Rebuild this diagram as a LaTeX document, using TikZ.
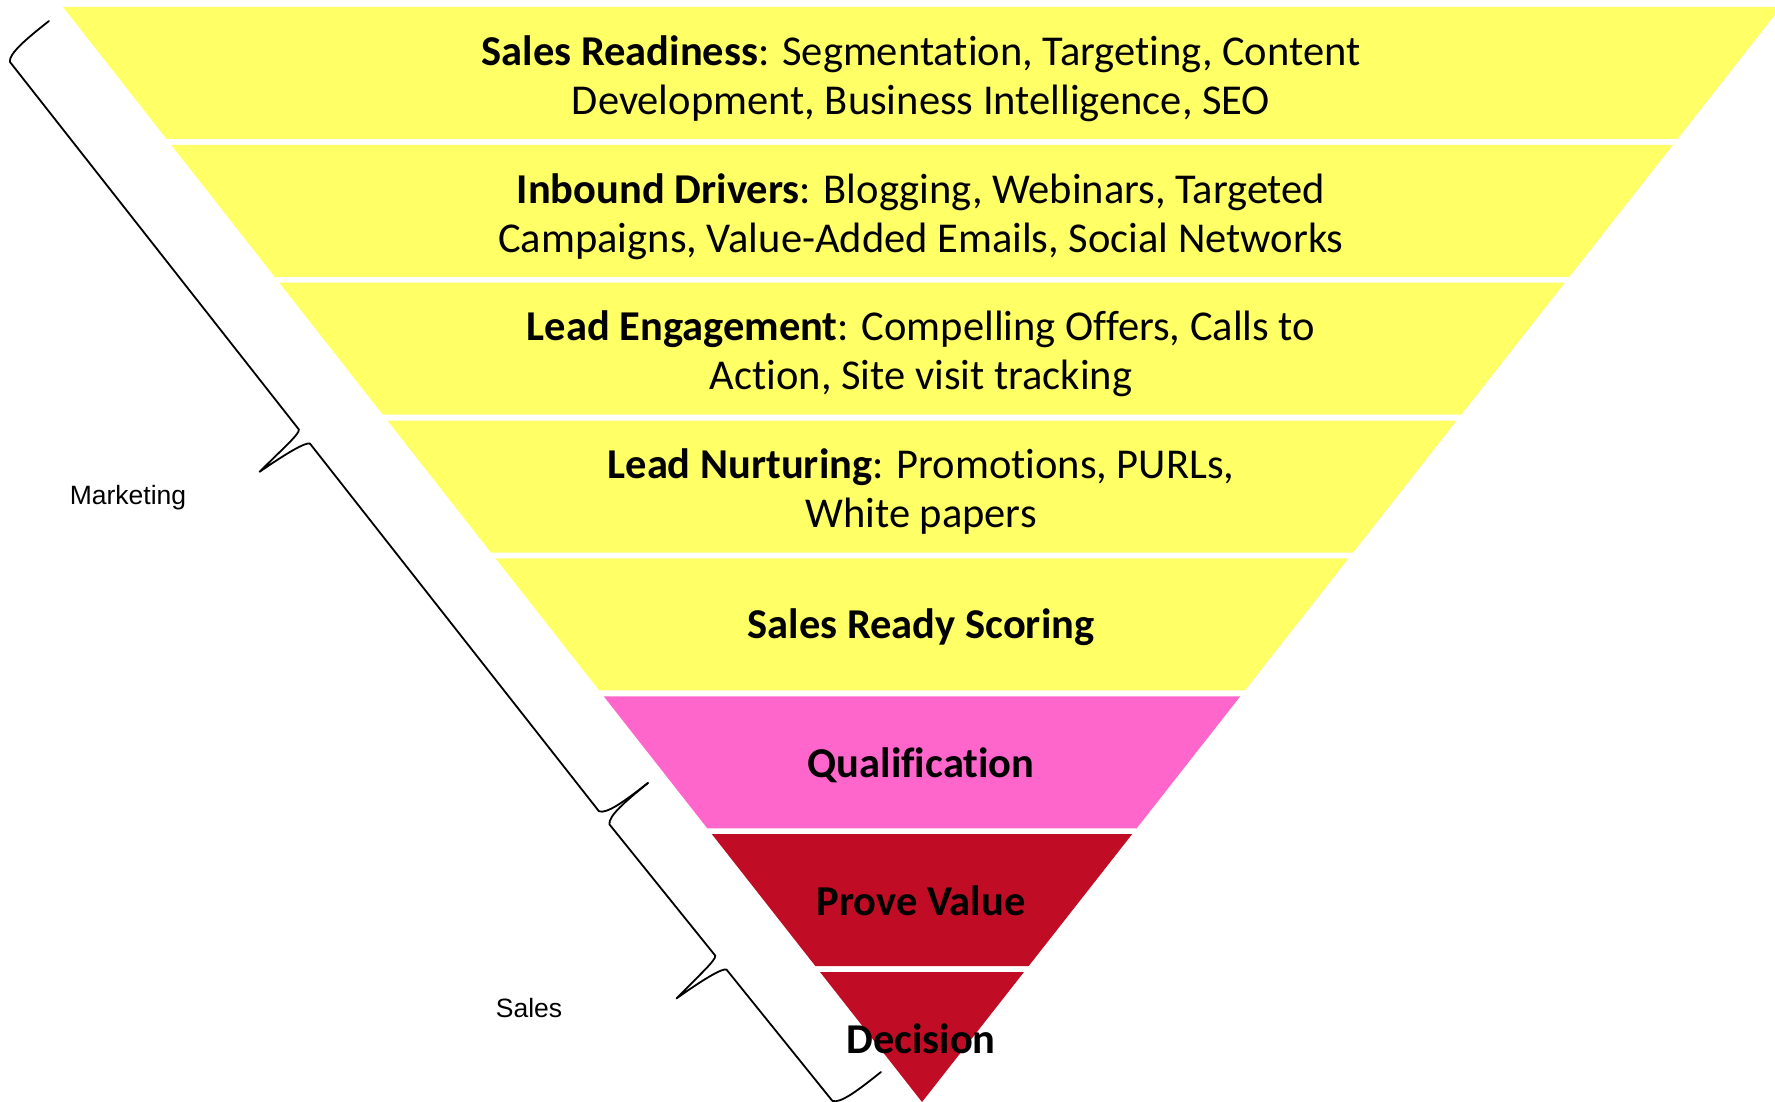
\documentclass[tikz,border=0pt]{standalone}
\usepackage{fontspec}
\setmainfont{Carlito}[Ligatures=NoCommon]
\newfontfamily\arialfont{Liberation Sans}
\usetikzlibrary{calc}
\definecolor{funyellow}{RGB}{255,255,102}
\definecolor{funpink}{RGB}{255,102,204}
\definecolor{funred}{RGB}{192,12,36}
\tikzset{
  bandtext/.style={align=center, text=black, font=\fontsize{42.5}{49}\selectfont, inner sep=0pt},
  sidelabel/.style={font=\arialfont\fontsize{26.5}{31}\selectfont, inner sep=0pt},
  bracestyle/.style={draw=black, line width=1.8pt, line join=round, line cap=round}
}
\newcommand\funnelbrace[3]{%
  \begin{scope}[shift={#1}, rotate=#2]
    \pgfmathsetmacro\hm{#3/2}
    \draw[bracestyle] (0,0) .. controls (0,-30) and (1,-52) .. (8,-56)
      -- ({\hm-9},-56) .. controls ({\hm-5},-58) and ({\hm-4},-80) .. ({\hm},-113)
      .. controls ({\hm+2},-80) and ({\hm+5},-58) .. ({\hm+9},-56)
      -- ({#3-8},-56) .. controls ({#3-1},-52) and ({#3},-30) .. (#3,0);
  \end{scope}}
\begin{document}
\begin{tikzpicture}[x=1pt,y=1pt]
\useasboundingbox (0,0) rectangle (1775,-1102);
\coordinate (A) at (63,-7);
\coordinate (B) at (1781,-7);
\coordinate (C) at (922,-1102);
\begin{scope}
\clip (0,0) rectangle (1775,-1102);
\foreach \i/\col in {0/funyellow,1/funyellow,2/funyellow,3/funyellow,4/funyellow,5/funpink,6/funred,7/funred}{
  \pgfmathsetmacro\ft{\i*137.86/1095}
  \pgfmathsetmacro\fb{min(1,(\i*137.86+132)/1095)}
  \fill[\col] ($(A)!\ft!(C)$) -- ($(B)!\ft!(C)$) -- ($(B)!\fb!(C)$) -- ($(A)!\fb!(C)$) -- cycle;
}
\end{scope}
\node[bandtext] (t1) at (921,-78.5) {\textbf{Sales Readiness}: Segmentation, Targeting, Content\\Development, Business Intelligence, SEO};
\node[bandtext] (t2) at (921,-216.5) {\textbf{Inbound Drivers}: Blogging, Webinars, Targeted\\Campaigns, Value-Added Emails, Social Networks};
\node[bandtext] (t3) at (921,-353.5) {\textbf{Lead Engagement}: Compelling Offers, Calls to\\Action, Site visit tracking};
\node[bandtext] (t4) at (921,-491.5) {\textbf{Lead Nurturing}: Promotions, PURLs,\\White papers};
\node[bandtext] (t5) at (921,-627) {\textbf{Sales Ready Scoring}};
\node[bandtext] (t6) at (921,-765) {\textbf{Qualification}};
\node[bandtext] (t7) at (921,-901) {\textbf{Prove Value}};
\node[bandtext] (t8) at (921,-1039) {\textbf{Decision}};
\funnelbrace{(49,-21)}{-51.83}{969.2}
\funnelbrace{(648,-783)}{-51.12}{371.2}
\node[sidelabel] (mkt) at (128,-498) {Marketing};
\node[sidelabel] (sls) at (529,-1008) {Sales};
\end{tikzpicture}
\end{document}
